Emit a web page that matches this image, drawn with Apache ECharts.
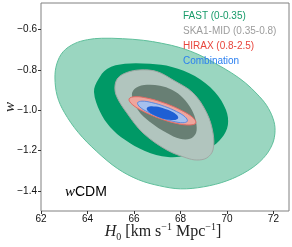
<!DOCTYPE html>
<html><head><meta charset="utf-8">
<script src="https://cdn.jsdelivr.net/npm/echarts@6/dist/echarts.min.js"></script>
<style>html,body{margin:0;padding:0;background:#fff}#c{width:292px;height:247px}</style>
</head><body><div id="c"></div>
<script>
const xTicks = [62, 64, 66, 68, 70, 72];
const yTicks = [-1.4, -1.2, -1.0, -0.8, -0.6];
const legendLabels = ['FAST (0-0.35)', 'SKA1-MID (0.35-0.8)', 'HIRAX (0.8-2.5)', 'Combination'];

// contour outlines (H0, w)
const fastOuter = [[62.60,-0.84],[62.68,-0.77],[62.95,-0.71],[63.43,-0.67],[64.0,-0.65],[64.6,-0.643],[65.5,-0.645],[66.4,-0.653],[67.2,-0.668],[68.0,-0.69],[68.8,-0.725],[69.5,-0.768],[70.2,-0.815],[70.8,-0.865],[71.3,-0.92],[71.7,-0.975],[71.98,-1.04],[72.07,-1.10],[71.95,-1.17],[71.55,-1.24],[70.9,-1.30],[70.0,-1.35],[69.0,-1.38],[68.0,-1.39],[67.1,-1.375],[66.2,-1.345],[65.3,-1.29],[64.4,-1.205],[63.6,-1.11],[63.0,-1.01],[62.7,-0.93]];
const fastInner = [[64.28,-0.909],[64.45,-0.850],[64.84,-0.795],[65.61,-0.770],[66.69,-0.770],[67.63,-0.785],[68.62,-0.830],[69.48,-0.909],[69.96,-0.999],[70.04,-1.073],[69.78,-1.137],[69.27,-1.187],[68.41,-1.222],[67.46,-1.232],[66.47,-1.202],[65.61,-1.147],[64.97,-1.083],[64.54,-1.008]];
const skaOuter = [[65.18,-0.883],[65.31,-0.840],[65.69,-0.813],[66.26,-0.800],[66.98,-0.808],[67.68,-0.850],[68.54,-0.914],[69.13,-1.013],[69.40,-1.113],[69.40,-1.197],[69.13,-1.237],[68.70,-1.247],[68.27,-1.237],[67.41,-1.197],[66.39,-1.113],[65.69,-1.013],[65.26,-0.933]];
const skaInner = [[65.91,-0.924],[66.09,-0.889],[66.56,-0.874],[67.12,-0.879],[67.63,-0.899],[68.11,-0.939],[68.49,-0.999],[68.67,-1.058],[68.67,-1.113],[68.41,-1.142],[67.98,-1.142],[67.42,-1.113],[66.69,-1.058],[66.17,-0.999]];
const hiraxOuter = [[68.662,-1.063],[68.413,-1.073],[67.845,-1.066],[67.110,-1.041],[66.409,-1.006],[65.923,-0.971],[65.789,-0.944],[66.039,-0.933],[66.606,-0.941],[67.342,-0.966],[68.043,-1.001],[68.529,-1.036]];
const combOuter = [[68.297,-1.054],[68.108,-1.062],[67.686,-1.055],[67.135,-1.036],[66.615,-1.010],[66.254,-0.984],[66.155,-0.963],[66.344,-0.955],[66.766,-0.962],[67.316,-0.981],[67.837,-1.007],[68.198,-1.033]];
const combInner = [[67.901,-1.039],[67.781,-1.048],[67.510,-1.047],[67.161,-1.038],[66.830,-1.022],[66.606,-1.005],[66.551,-0.990],[66.671,-0.981],[66.946,-0.982],[67.290,-0.991],[67.622,-1.006],[67.845,-1.024]];

const chart = echarts.init(document.getElementById('c'), null, {renderer: 'canvas'});

function contour(pts, fill, stroke, lw, smooth) {
  return {
    type: 'custom', coordinateSystem: 'cartesian2d', silent: true, animation: false,
    data: [pts[0]],
    renderItem: function (params, api) {
      return {
        type: 'polygon',
        shape: {points: pts.map(function (p) { return api.coord(p); }), smooth: smooth},
        style: {fill: fill, stroke: stroke || 'none', lineWidth: lw || 0}
      };
    }
  };
}

const sans = '"Liberation Sans", Arial, sans-serif';
const serif = '"Liberation Serif", "DejaVu Serif", serif';
const fmt = function (v) { return (v < 0 ? '\u2212' : '') + Math.abs(v).toFixed(1); };

chart.setOption({
  animation: false,
  grid: {left: 41, right: 3, top: 3, bottom: 36, show: true, borderColor: '#808080', borderWidth: 1, outerBoundsMode: 'none'},
  xAxis: {
    type: 'value', min: 62, max: 72.67,
    axisLine: {show: false},
    axisTick: {show: true, length: 3, customValues: xTicks, lineStyle: {color: '#333'}},
    axisLabel: {customValues: xTicks, margin: 3, fontFamily: sans, fontSize: 10, color: '#111'},
    splitLine: {show: false}
  },
  yAxis: {
    type: 'value', min: -1.5, max: -0.468,
    axisLine: {show: false},
    axisTick: {show: true, length: 3, customValues: yTicks, lineStyle: {color: '#333'}},
    axisLabel: {customValues: yTicks, margin: 4, fontFamily: sans, fontSize: 10, color: '#111', formatter: fmt},
    splitLine: {show: false}
  },
  series: [
    contour(fastOuter, '#9ad6c0', '#5fbf9b', 1, 0.35),
    contour(fastInner, '#009966', null, 0, 0.35),
    contour(skaOuter, '#b1c5be', '#a0a8a4', 1, 0.35),
    contour(skaInner, '#687f74', null, 0, 0.35),
    contour(hiraxOuter, '#eea59d', '#e36a63', 1, 0.4),
    contour(combOuter, '#a6c0ee', '#5a8ae0', 1, 0.4),
    contour(combInner, '#1e5fd4', null, 0, 0.4)
  ],
  graphic: [
    {type: 'text', z: 100, x: 183, y: 16.2, style: {text: legendLabels[0], fill: '#179b69', font: '10px ' + sans, verticalAlign: 'middle'}},
    {type: 'text', z: 100, x: 183, y: 31.2, style: {text: legendLabels[1], fill: '#9c9c9c', font: '10px ' + sans, verticalAlign: 'middle'}},
    {type: 'text', z: 100, x: 183, y: 46.2, style: {text: legendLabels[2], fill: '#e8453c', font: '10px ' + sans, verticalAlign: 'middle'}},
    {type: 'text', z: 100, x: 183, y: 61.2, style: {text: legendLabels[3], fill: '#2a7ff0', font: '10px ' + sans, verticalAlign: 'middle'}},
    {type: 'text', z: 100, x: 65, y: 192, style: {
      text: '{w|w}{c|CDM}', verticalAlign: 'middle',
      rich: {w: {fontFamily: serif, fontStyle: 'italic', fontSize: 15, fill: '#000'}, c: {fontFamily: sans, fontSize: 14, fill: '#000'}}
    }},
    {type: 'text', z: 100, x: 163, y: 232, style: {
      text: '{i|H}{sub|0}{r| [km s}{sup|\u22121}{r| Mpc}{sup|\u22121}{r|]}', align: 'center', verticalAlign: 'middle',
      rich: {
        i: {fontFamily: serif, fontStyle: 'italic', fontSize: 16, fill: '#222', lineHeight: 20},
        r: {fontFamily: serif, fontSize: 16, fill: '#222', lineHeight: 20},
        sub: {fontFamily: serif, fontSize: 10, fill: '#222', verticalAlign: 'bottom', lineHeight: 14},
        sup: {fontFamily: serif, fontSize: 10, fill: '#222', verticalAlign: 'top', lineHeight: 12}
      }
    }},
    {type: 'text', z: 100, x: 10, y: 107, rotation: Math.PI / 2, style: {
      text: 'w', align: 'center', verticalAlign: 'middle', fontFamily: serif, fontStyle: 'italic', fontSize: 15, fill: '#222'
    }}
  ]
});
</script></body></html>
